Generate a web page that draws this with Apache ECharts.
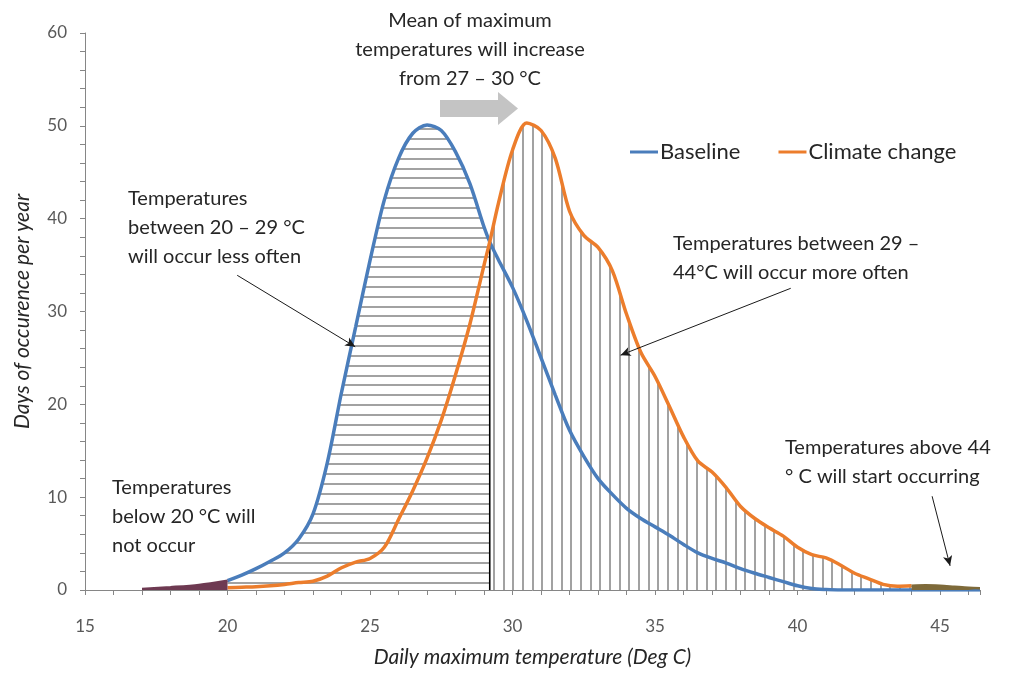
<!DOCTYPE html>
<html>
<head>
<meta charset="utf-8">
<script src="https://cdn.jsdelivr.net/npm/echarts@6/dist/echarts.min.js"></script>
<style>
html,body{margin:0;padding:0;background:#fff;}
#chart{width:1018px;height:675px;}
</style>
</head>
<body>
<div id="chart"></div>
<script>
// ---- Data ----
const baselineTemp = [17,18,19,20,20.5,21,21.5,22,22.5,23,23.5,24,24.5,25,25.5,26,26.5,27,27.5,28,28.5,29,29.2,29.5,30,30.5,31,31.5,32,32.5,33,33.5,34,34.5,35,35.5,36,36.5,37,37.5,38,38.5,39,39.5,40,40.5,41,41.5,42,43,44,45,46,46.4];
const baselineDays = [0.1,0.3,0.55,1.0,1.6,2.3,3.1,4.0,5.5,8.2,13.7,21.3,28.4,35.5,42.0,46.5,49.2,50.1,49.5,47.2,43.8,39.1,37.5,35.6,32.6,29.0,25.0,21.0,17.2,14.4,12.0,10.3,8.8,7.7,6.8,5.9,4.9,4.0,3.4,2.9,2.3,1.8,1.35,0.9,0.45,0.15,0.05,0,0,0,0,0,0,0];
const climateTemp = [20,20.5,21,21.5,22,22.5,23,23.5,24,24.5,25,25.5,26,26.5,27,27.5,28,28.5,29,29.2,29.5,30,30.5,31,31.5,32,32.5,33,33.5,34,34.5,35,35.5,36,36.5,37,37.5,38,38.5,39,39.5,40,40.5,41,41.5,42,42.5,43,43.5,44,44.5,45,45.5,46,46.4];
const climateDays = [0.25,0.3,0.35,0.45,0.6,0.8,0.95,1.5,2.4,3.0,3.4,4.6,7.6,10.7,14.2,18.3,23.2,28.6,35.0,37.5,41.6,47.4,50.3,49.5,46.5,40.8,38.2,36.9,34.4,29.7,25.6,23.0,19.8,16.5,13.9,12.7,11.0,9.0,7.7,6.7,5.8,4.6,3.8,3.45,2.7,1.8,1.2,0.6,0.4,0.45,0.5,0.45,0.35,0.25,0.2];
const seriesNames = ['Baseline', 'Climate change'];
const crossTemp = 29.2;            // where the curves cross (black divider)
const crossDays = 37.5;
const lessOftenRange = [20, 29.2];
const moreOftenRange = [29.2, 44];
const notOccurRange = [17, 20];
const startOccurRange = [44, 46.4];
const xTicks = {min: 15, max: 46.4, interval: 5};
const yTicks = {min: 0, max: 60, interval: 10};
// arrows [from(temp,days), to(temp,days)]
const arrowLess = [[20.34, 33.9], [24.48, 26.2]];
const arrowMore = [[39.76, 32.5], [33.79, 25.3]];
const arrowAbove = [[44.72, 10.1], [45.35, 2.6]];

const zip = (xs, ys) => xs.map((x, i) => [x, ys[i]]);
const baseline = zip(baselineTemp, baselineDays);
const climate = zip(climateTemp, climateDays);
const within = (pts, r) => pts.filter(p => p[0] >= r[0] && p[0] <= r[1]);

function hPattern() {
  const c = document.createElement('canvas');
  c.width = 8; c.height = 69;
  const g = c.getContext('2d');
  g.fillStyle = '#a2a2a2';
  for (let i = 0; i < 7; i++) g.fillRect(0, Math.round(i * 9.857), 8, 2);
  return c;
}
function vPattern() {
  const c = document.createElement('canvas');
  c.width = 29; c.height = 8;
  const g = c.getContext('2d');
  g.fillStyle = '#a2a2a2';
  [0, 10, 19].forEach(x => g.fillRect(x, 0, 2, 8));
  return c;
}

const FONT = 'Lato, "Open Sans", sans-serif';
const BLUE = '#4a7dbb';
const ORANGE = '#ec7d2c';
const SMOOTH = 0.3;

const chart = echarts.init(document.getElementById('chart'), null, {renderer: 'canvas'});

const areaBase = {
  type: 'line', smooth: SMOOTH, symbol: 'none',
  lineStyle: {width: 0}, silent: true, legendHoverLink: false
};

const textStyle = (t, x, y, align) => ({
  type: 'text', x: x, y: y, silent: true,
  style: {text: t, font: '20px ' + FONT, fill: '#262626', lineHeight: 29,
          align: align || 'left', verticalAlign: 'top'}
});

const arrowLine = (a) => [{coord: a[0]}, {coord: a[1]}];

chart.setOption({
  animation: false,
  backgroundColor: '#ffffff',
  grid: {left: 85, right: 38, top: 33, bottom: 85, containLabel: false},
  legend: {
    data: seriesNames, left: 630, top: 141, icon: 'rect',
    itemWidth: 28, itemHeight: 3, itemGap: 38, padding: 0,
    textStyle: {fontFamily: FONT, fontSize: 22, color: '#262626', padding: [0, 0, 0, -3]}
  },
  xAxis: {
    type: 'value', min: xTicks.min, max: xTicks.max, interval: xTicks.interval,
    name: 'Daily maximum temperature (Deg C)', nameLocation: 'middle', nameGap: 57,
    nameTextStyle: {fontFamily: FONT, fontSize: 21, fontStyle: 'italic', color: '#262626'},
    axisLine: {show: true, onZero: false, lineStyle: {color: '#868686', width: 1}},
    axisTick: {show: true, inside: false, length: 5, lineStyle: {color: '#868686'}},
    minorTick: {show: true, splitNumber: 5, length: 5, lineStyle: {color: '#868686'}},
    axisLabel: {fontFamily: FONT, fontSize: 17, color: '#595959', margin: 28,
      showMaxLabel: false},
    splitLine: {show: false}
  },
  yAxis: {
    type: 'value', min: yTicks.min, max: yTicks.max, interval: yTicks.interval,
    name: 'Days of occurence per year', nameLocation: 'middle', nameGap: 52,
    nameTextStyle: {fontFamily: FONT, fontSize: 21, fontStyle: 'italic', color: '#262626'},
    axisLine: {show: true, lineStyle: {color: '#868686', width: 1}},
    axisTick: {show: true, inside: false, length: 5, lineStyle: {color: '#868686'}},
    minorTick: {show: true, splitNumber: 5, length: 5, lineStyle: {color: '#868686'}},
    axisLabel: {fontFamily: FONT, fontSize: 17, color: '#595959', margin: 18},
    splitLine: {show: false}
  },
  graphic: [
    textStyle('Mean of maximum\ntemperatures will increase\nfrom 27 \u2013 30 \u00B0C', 470, 6, 'center'),
    {type: 'polygon', silent: true, z: 5,
     shape: {points: [[440, 100], [498, 100], [498, 92], [518, 108.5], [498, 125], [498, 117], [440, 117]]},
     style: {fill: '#c4c4c4'}},
    textStyle('Temperatures\nbetween 20 \u2013 29 \u00B0C\nwill occur less often', 128, 184),
    textStyle('Temperatures between 29 \u2013\n44\u00B0C will occur more often', 673, 229),
    textStyle('Temperatures\nbelow 20 \u00B0C will\nnot occur', 112, 473),
    textStyle('Temperatures above 44\n\u00B0 C will start occurring', 785, 433)
  ],
  series: [
    Object.assign({}, areaBase, {
      name: 'less often', data: within(baseline, lessOftenRange), z: 1,
      areaStyle: {color: {image: hPattern(), repeat: 'repeat'}, opacity: 1}
    }),
    Object.assign({}, areaBase, {
      name: 'more often', data: within(climate, moreOftenRange), z: 1,
      areaStyle: {color: {image: vPattern(), repeat: 'repeat'}, opacity: 1}
    }),
    {
      name: 'divider', type: 'line', symbol: 'none', silent: true, z: 3,
      data: [[crossTemp, 0], [crossTemp, crossDays]],
      lineStyle: {color: '#000', width: 1.6}
    },
    {
      name: seriesNames[0], type: 'line', data: within(baseline, [20, 46.4]), smooth: SMOOTH,
      symbol: 'none', z: 4, color: BLUE, lineStyle: {color: BLUE, width: 3.5}
    },
    {
      name: seriesNames[1], type: 'line', data: within(climate, [20, 44]), smooth: SMOOTH,
      symbol: 'none', z: 4, color: ORANGE, lineStyle: {color: ORANGE, width: 3.5}
    },
    Object.assign({}, areaBase, {
      name: 'not occur', data: within(baseline, notOccurRange), z: 5,
      lineStyle: {width: 2.5, color: '#6e3a52'},
      areaStyle: {color: '#6e3a52', opacity: 1}
    }),
    Object.assign({}, areaBase, {
      name: 'start occurring', data: within(climate, startOccurRange), z: 5,
      lineStyle: {width: 2.5, color: '#7e6a3a'},
      areaStyle: {color: '#7e6a3a', opacity: 1}
    }),
    {
      name: 'arrows', type: 'line', data: [], silent: true, z: 6,
      markLine: {
        silent: true, symbol: ['none', 'arrow'], symbolSize: [7, 10], animation: false,
        label: {show: false},
        lineStyle: {color: '#1a1a1a', width: 1, type: 'solid'},
        data: [arrowLine(arrowLess), arrowLine(arrowMore), arrowLine(arrowAbove)]
      }
    }
  ]
});
</script>
</body>
</html>
